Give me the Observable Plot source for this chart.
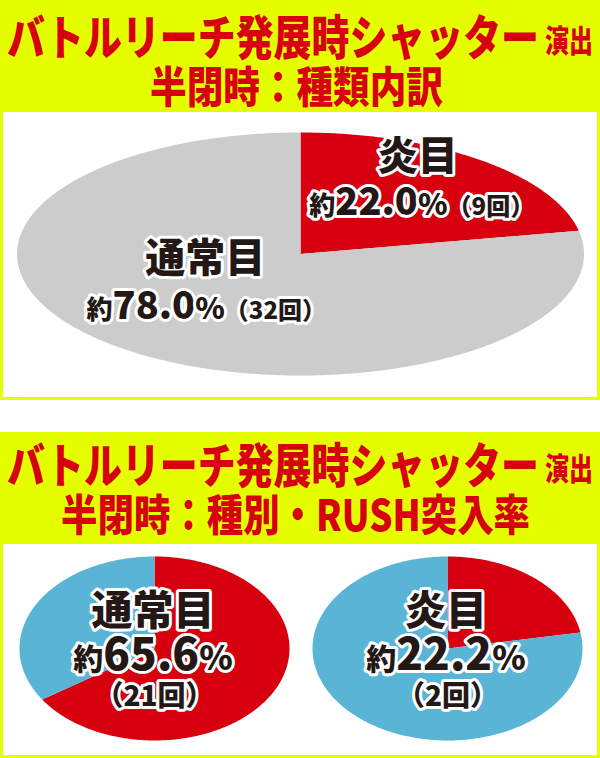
<!DOCTYPE html>
<html><head><meta charset="utf-8">
<script src="https://cdn.jsdelivr.net/npm/d3@7"></script>
<script src="https://cdn.jsdelivr.net/npm/@observablehq/plot@0.6"></script>
<style>
html,body{margin:0;padding:0;background:#fff;}
#root{position:relative;width:600px;height:758px;overflow:hidden;font-family:"Noto Sans CJK JP","Noto Sans",sans-serif;}
.block{position:absolute;left:0;width:600px;background:#e6ff00;}
.panel{position:absolute;left:3px;width:594px;background:#fff;display:flex;}
.ttl{position:absolute;left:0;top:0;overflow:visible;}
</style></head><body><div id="root"></div>
<script>
// ---------- data ----------
const titleMain = "バトルリーチ発展時シャッター";
const titleSuffix = "演出";
const subtitles = ["半閉時：種類内訳", "半閉時：種別・RUSH突入率"];

// chart 1: type breakdown
const typeNames = ["炎目", "通常目"];
const typeCounts = [9, 32];
const typePercents = ["22.0", "78.0"];

// chart 2: RUSH entry rate by type
const rushTypes = ["通常目", "炎目"];
const rushTotals = [32, 9];
const rushHits = [21, 2];
const rushPercents = ["65.6", "22.2"];

// ---------- styles ----------
const RED = "#d7000f", GREY = "#cccccc", BLUE = "#5ab4d6", INK = "#231815";
const FONT = '"Noto Sans CJK JP", sans-serif';

const root = document.getElementById("root");
const svgNS = "http://www.w3.org/2000/svg";

function titleSvg(parent, sub, cfg) {
  const svg = document.createElementNS(svgNS, "svg");
  svg.setAttribute("width", 600); svg.setAttribute("height", 112);
  svg.setAttribute("class", "ttl");
  const mk = (txt, x, y, size, len, anchor, sy) => {
    const t = document.createElementNS(svgNS, "text");
    t.textContent = txt;
    t.setAttribute("x", 0); t.setAttribute("y", 0);
    t.setAttribute("transform", `translate(${x},${y}) scale(1,${sy})`);
    t.setAttribute("font-size", size);
    t.setAttribute("font-weight", 900);
    t.setAttribute("font-family", FONT);
    t.setAttribute("fill", RED);
    t.setAttribute("dominant-baseline", "central");
    t.setAttribute("text-anchor", anchor);
    t.setAttribute("textLength", len);
    t.setAttribute("lengthAdjust", "spacingAndGlyphs");
    svg.appendChild(t);
  };
  mk(titleMain, 7, cfg.y1, 38, 532, "start", 1.26);
  mk(titleSuffix, 545, cfg.y1 + 5, 24, 48, "start", 1.3);
  mk(sub, cfg.cx2, cfg.y2, cfg.s2, cfg.len2, "middle", 1.17);
  parent.appendChild(svg);
}

let uid = 0;
function piePlot(names, values, colors, geom, labels) {
  const arcs = d3.pie().sort(null).value(d => d.value)(names.map((n, i) => ({name: n, value: values[i]})));
  const pts = [];
  for (const a of arcs) {
    const n = Math.max(2, Math.ceil((a.endAngle - a.startAngle) / 0.01));
    pts.push({key: a.data.name, x: 0, y: 0});
    for (let k = 0; k <= n; k++) {
      const t = a.startAngle + (a.endAngle - a.startAngle) * k / n;
      pts.push({key: a.data.name, x: Math.sin(t), y: Math.cos(t)});
    }
    pts.push({key: a.data.name, x: 0, y: 0});
  }
  const pending = [];
  const marks = [
    Plot.line(pts, {x: "x", y: "y", z: "key", fill: "key", stroke: "none", curve: "linear"})
  ];
  for (const lb of labels) {
    const a = arcs[lb.slice];
    const mid = (a.startAngle + a.endAngle) / 2;
    const anchor = {x: lb.r * Math.sin(mid), y: lb.r * Math.cos(mid)};
    for (const ln of lb.lines) {
      const txt = ln.parts.map(p => p.t).join("");
      const maxSize = Math.max(...ln.parts.map(p => p.s));
      const cls = "lbl" + (uid++);
      pending.push({cls, parts: ln.parts});
      marks.push(Plot.text([anchor], {
        x: "x", y: "y", text: () => txt, dx: ln.dx, dy: ln.dy,
        fontSize: maxSize, fontWeight: 900, fontFamily: FONT,
        fill: INK, stroke: "white", strokeWidth: 6, strokeLinejoin: "round",
        paintOrder: "stroke", lineAnchor: "middle", textAnchor: "middle",
        className: cls
      }));
    }
  }
  const svg = Plot.plot({
    width: geom.w, height: geom.h, margin: 0,
    style: {background: "transparent", overflow: "visible"},
    x: {domain: [-1, 1], range: [geom.cx - geom.rx, geom.cx + geom.rx], axis: null},
    y: {domain: [-1, 1], range: [geom.cy + geom.ry, geom.cy - geom.ry], axis: null},
    color: {domain: names, range: colors},
    marks
  });
  for (const p of pending) {
    svg.querySelectorAll("." + p.cls + " text").forEach(t => {
      while (t.firstChild) t.removeChild(t.firstChild);
      for (const part of p.parts) {
        const ts = document.createElementNS(svgNS, "tspan");
        ts.setAttribute("font-size", part.s);
        ts.textContent = part.t;
        t.appendChild(ts);
      }
      t.setAttribute("paint-order", "stroke");
    });
  }
  return svg;
}

// ---------- block 1 ----------
const b1 = document.createElement("div");
b1.className = "block"; b1.style.top = "0px"; b1.style.height = "400px";
root.appendChild(b1);
titleSvg(b1, subtitles[0], {y1: 33.5, y2: 84, cx2: 296.5, len2: 293, s2: 36.5});
const p1 = document.createElement("div");
p1.className = "panel"; p1.style.top = "112px"; p1.style.height = "285px";
b1.appendChild(p1);

const pct = (v) => [{t: "約", s: 26}, {t: v, s: 38}, {t: "%", s: 30}];
p1.appendChild(piePlot(typeNames, typeCounts, [RED, GREY],
  {w: 594, h: 285, cx: 297, cy: 141.5, rx: 283.5, ry: 121.5},
  [
    {slice: 0, r: 0.6, lines: [
      {parts: [{t: typeNames[0], s: 40}], dx: 9, dy: -41},
      {parts: [...pct(typePercents[0]), {t: "（" + typeCounts[0] + "回）", s: 24}], dx: 13, dy: 5}
    ]},
    {slice: 1, r: 0.6, lines: [
      {parts: [{t: typeNames[1], s: 40}], dx: 13, dy: -51},
      {parts: [...pct(typePercents[1]), {t: "（" + typeCounts[1] + "回）", s: 24}], dx: 14, dy: -3}
    ]}
  ]));

// ---------- block 2 ----------
const b2 = document.createElement("div");
b2.className = "block"; b2.style.top = "432px"; b2.style.height = "326px";
root.appendChild(b2);
titleSvg(b2, subtitles[1], {y1: 30, y2: 80.5, cx2: 295.5, len2: 469, s2: 37});
const p2 = document.createElement("div");
p2.className = "panel"; p2.style.top = "112px"; p2.style.height = "211px";
b2.appendChild(p2);

const cxs = [151, 147];
rushTypes.forEach((name, i) => {
  const rest = rushTotals[i] - rushHits[i];
  p2.appendChild(piePlot(["RUSH", "other"], [rushHits[i], rest], [RED, BLUE],
    {w: 297, h: 211, cx: cxs[i], cy: 104, rx: 135, ry: 92},
    [
      {slice: 0, r: 0, lines: [
        {parts: [{t: name, s: 41}], dx: -1.5, dy: -37},
        {parts: [{t: "約", s: 30}, {t: rushPercents[i], s: 44}, {t: "%", s: 34}], dx: -1.5, dy: 7},
        {parts: [{t: "（" + rushHits[i] + "回）", s: 28}], dx: 0, dy: 49}
      ]}
    ]));
});
</script>
</body></html>
